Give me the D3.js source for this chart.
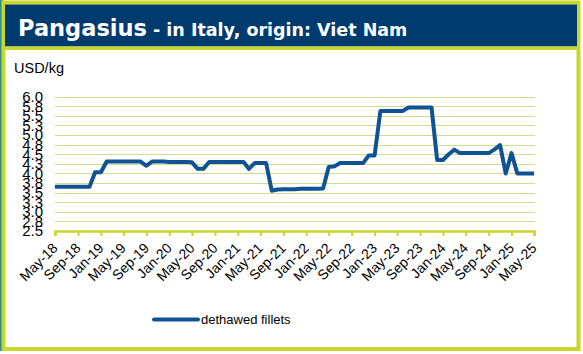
<!DOCTYPE html>
<meta charset="utf-8">
<script src="https://d3js.org/d3.v7.min.js"></script>
<style>
  body { margin: 0; background: #fff; }
  text { font-family: "Liberation Sans", Arial, sans-serif; }
</style>
<div id="chart"></div>
<script>

// monthly prices, May-18 .. May-25 (USD/kg)
var startMonth = new Date(2018, 4, 1);
var values = [
  3.65, 3.65, 3.65, 3.65, 3.65, 3.65, 3.65,
  4.03, 4.03,
  4.31, 4.31, 4.31, 4.31, 4.31, 4.31, 4.31,
  4.20,
  4.31, 4.31, 4.31, 4.30, 4.30, 4.30, 4.30, 4.29,
  4.12, 4.12,
  4.30, 4.30, 4.30, 4.30, 4.30, 4.30, 4.30,
  4.12,
  4.27, 4.27, 4.27,
  3.55,
  3.58, 3.59, 3.59, 3.59, 3.60, 3.60, 3.60, 3.60, 3.61,
  4.17, 4.19,
  4.27, 4.27, 4.27, 4.27, 4.27,
  4.47, 4.47,
  5.63, 5.63, 5.63, 5.63, 5.63,
  5.72, 5.72, 5.72, 5.72, 5.72,
  4.35, 4.35,
  4.50, 4.62,
  4.53, 4.53, 4.53, 4.53, 4.53, 4.53,
  4.62, 4.74,
  4.00,
  4.53,
  4.00, 4.00, 4.00, 4.00
];
var yTicks = [2.5, 2.75, 3.0, 3.25, 3.5, 3.75, 4.0, 4.25, 4.5, 4.75, 5.0, 5.25, 5.5, 5.75, 6.0];
var seriesName = "dethawed fillets";

var data = values.map(function(v, i) {
  return { date: d3.timeMonth.offset(startMonth, i), value: v };
});

var W = 583, H = 354;
var svg = d3.select("#chart").append("svg")
  .attr("width", W).attr("height", H);

// frame
svg.append("rect").attr("x", 0).attr("y", 0).attr("width", 3).attr("height", 351)
  .attr("fill", "#2f8c86");
svg.append("rect").attr("x", 3.5).attr("y", 2.5).attr("width", 575).attr("height", 346.5)
  .attr("fill", "#fff").attr("stroke", "#c9d62b").attr("stroke-width", 4);
svg.append("rect").attr("x", 5).attr("y", 4.5).attr("width", 572).attr("height", 42)
  .attr("fill", "#003b70");
svg.append("rect").attr("x", 5).attr("y", 46.5).attr("width", 572).attr("height", 3.5)
  .attr("fill", "#c9d62b");

var title = svg.append("text").attr("x", 18).attr("y", 36)
  .style("font-family", "'DejaVu Sans', Verdana, sans-serif")
  .style("font-weight", "bold").attr("fill", "#fff");
title.append("tspan").style("font-size", "22.5px").text("Pangasius");
title.append("tspan").style("font-size", "17.5px").text(" - in Italy, origin: Viet Nam");

svg.append("text").attr("x", 14).attr("y", 73)
  .style("font-size", "14.5px").attr("fill", "#000").text("USD/kg");

// scales
var x = d3.scaleTime()
  .domain([data[0].date, data[data.length - 1].date])
  .range([55, 534]);
var y = d3.scaleLinear()
  .domain([2.5, 6.0])
  .range([231, 96.7]);

// gridlines
svg.append("g").selectAll("line").data(yTicks.slice(1)).enter().append("line")
  .attr("x1", 55).attr("x2", 535)
  .attr("y1", function(d) { return Math.round(y(d)) + 0.5; })
  .attr("y2", function(d) { return Math.round(y(d)) + 0.5; })
  .attr("stroke", "#d2dc8e").attr("stroke-width", 1);

// y axis labels
var yAxis = svg.append("g").attr("transform", "translate(55,0)")
  .call(d3.axisLeft(y).tickValues(yTicks).tickFormat(d3.format(".1f")).tickSize(0).tickPadding(12));
yAxis.select(".domain").remove();
yAxis.selectAll("text").style("font-size", "15px").attr("fill", "#000")
  .style("font-family", "'Liberation Sans', Arial, sans-serif");

// x axis
var xTicks = d3.timeMonth.every(4).range(data[0].date, d3.timeMonth.offset(data[data.length - 1].date, 1));
var xAxis = svg.append("g").attr("transform", "translate(0,231)")
  .call(d3.axisBottom(x).tickValues(xTicks).tickFormat(d3.timeFormat("%b-%y")).tickSizeOuter(0).tickSize(5));
xAxis.select(".domain").attr("stroke", "#c9d62b").attr("stroke-width", 2.5);
xAxis.selectAll(".tick line").attr("stroke", "#c9d62b").attr("stroke-width", 2);
xAxis.selectAll("text")
  .style("font-size", "14px").attr("fill", "#000")
  .style("font-family", "'Liberation Sans', Arial, sans-serif")
  .attr("text-anchor", "end")
  .attr("dy", null).attr("y", 0)
  .attr("transform", "translate(3,18) rotate(-45)");

// line
var line = d3.line()
  .x(function(d) { return x(d.date); })
  .y(function(d) { return y(d.value); });
svg.append("path").datum(data)
  .attr("d", line)
  .attr("fill", "none")
  .attr("stroke", "#0f5394")
  .attr("stroke-width", 4)
  .attr("stroke-linejoin", "round");

// legend
svg.append("line").attr("x1", 154).attr("x2", 198).attr("y1", 319.5).attr("y2", 319.5)
  .attr("stroke", "#0f5394").attr("stroke-width", 4).attr("stroke-linecap", "round");
svg.append("text").attr("x", 201).attr("y", 324)
  .style("font-size", "13px").attr("fill", "#000").text(seriesName);

</script>
